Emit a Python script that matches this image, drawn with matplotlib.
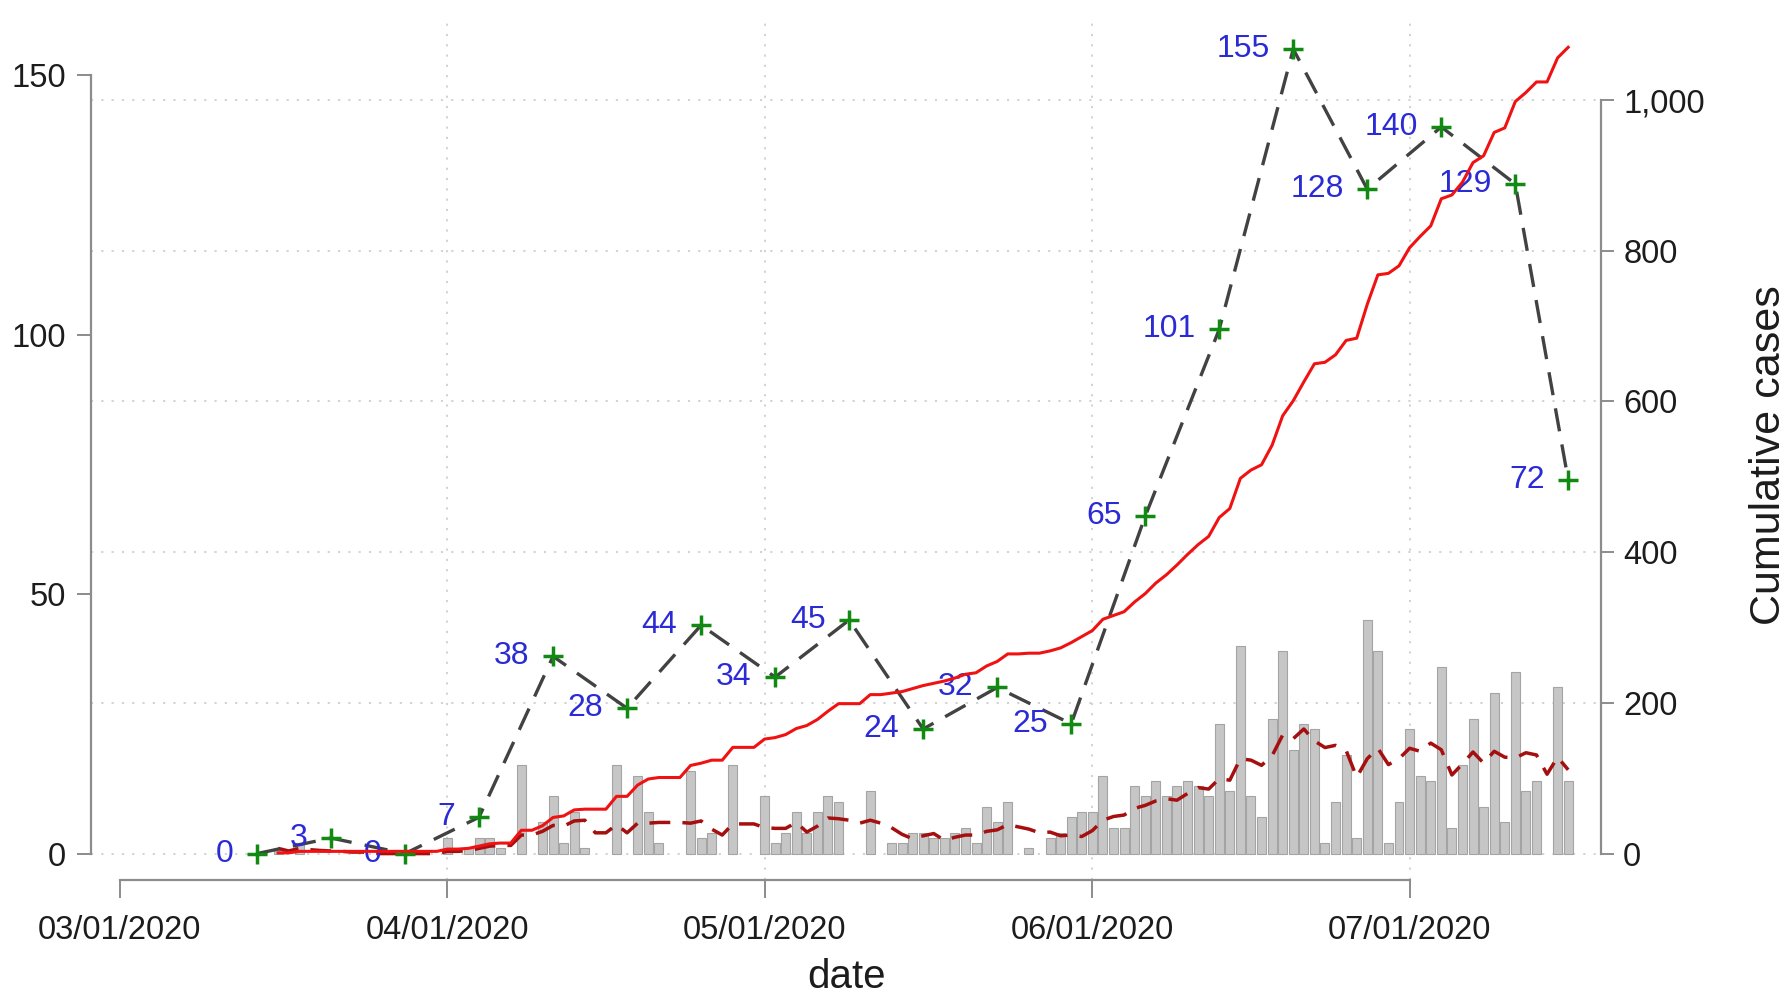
#!/usr/bin/env python3
# -*- coding: utf-8 -*-
"""
Daily, weekly and cumulative case counts, March - July 2020
"""
import numpy as np
import pandas as pd
import matplotlib
matplotlib.use("Agg")
import matplotlib.pyplot as plt
import matplotlib.dates as mdates
from matplotlib.ticker import FuncFormatter


# first day of the daily series
first_day = "2020-03-16"

# daily new cases, one row per week (weeks end on Saturday)
daily_cases = [
    1, 0, 2, 0, 0, 0,              # Mar 16 - Mar 21
    0, 0, 0, 0, 0, 0, 0,           # Mar 22 - Mar 28
    0, 0, 0, 3, 0, 1, 3,           # Mar 29 - Apr 04
    3, 1, 0, 17, 0, 6, 11,         # Apr 05 - Apr 11
    2, 8, 1, 0, 0, 17, 0,          # Apr 12 - Apr 18
    15, 8, 2, 0, 0, 16, 3,         # Apr 19 - Apr 25
    4, 0, 17, 0, 0, 11, 2,         # Apr 26 - May 02
    4, 8, 4, 8, 11, 10, 0,         # May 03 - May 09
    0, 12, 0, 2, 2, 4, 4,          # May 10 - May 16
    3, 3, 4, 5, 2, 9, 6,           # May 17 - May 23
    10, 0, 1, 0, 3, 4, 7,          # May 24 - May 30
    8, 8, 15, 5, 5, 13, 11,        # May 31 - Jun 06
    14, 11, 13, 14, 13, 11, 25,    # Jun 07 - Jun 13
    12, 40, 11, 7, 26, 39, 20,     # Jun 14 - Jun 20
    25, 24, 2, 10, 19, 3, 45,      # Jun 21 - Jun 27
    39, 2, 10, 24, 15, 14, 36,     # Jun 28 - Jul 04
    5, 17, 26, 9, 31, 6, 35,       # Jul 05 - Jul 11
    12, 14, 0, 32, 14,             # Jul 12 - Jul 16
]

# weekly totals, dated by the last day of each week
week_end = ["2020-03-14", "2020-03-21", "2020-03-28", "2020-04-04",
            "2020-04-11", "2020-04-18", "2020-04-25", "2020-05-02",
            "2020-05-09", "2020-05-16", "2020-05-23", "2020-05-30",
            "2020-06-06", "2020-06-13", "2020-06-20", "2020-06-27",
            "2020-07-04", "2020-07-11", "2020-07-16"]
weekly_cases = [0, 3, 0, 7, 38, 28, 44, 34, 45, 24, 32, 25,
                65, 101, 155, 128, 140, 129, 72]

# axis ticks
month_ticks = ["2020-03-01", "2020-04-01", "2020-05-01",
               "2020-06-01", "2020-07-01"]
left_ticks = [0, 50, 100, 150]
right_ticks = [0, 200, 400, 600, 800, 1000]


def generate_data():
    # daily dates and the derived series
    dates = pd.date_range(first_day, periods=len(daily_cases))
    daily = np.array(daily_cases)
    cumulative = np.cumsum(daily)
    moving_avg = pd.Series(daily).rolling(7, min_periods=1).mean().values
    weeks = pd.to_datetime(week_end)
    return dates, daily, cumulative, moving_avg, weeks


def plot_data(dates, daily, cumulative, moving_avg, weeks):
    plt.rcParams['font.family'] = ['Liberation Sans', 'DejaVu Sans']

    fig = plt.figure(figsize=(17.87, 10), dpi=100)
    ax = fig.add_axes([0.0509, 0.12, 0.845, 0.86])
    ax2 = ax.twinx()

    axis_grey = '#8c8c8c'
    grid_grey = '#cfcfcf'

    # limits
    x0 = mdates.date2num(pd.Timestamp(month_ticks[0]))
    ax.set_xlim(x0 - 2.7, x0 + 140.1)
    ax.set_ylim(-5.09, 160.6)
    ax2.set_ylim(-35.0, 1106.2)

    # gridlines (right axis values, drawn beneath the bars)
    lo1, hi1 = ax.get_ylim()
    lo2, hi2 = ax2.get_ylim()
    for r in right_ticks:
        y = lo1 + (r - lo2) * (hi1 - lo1) / (hi2 - lo2)
        ax.axhline(y, color=grid_grey, lw=1.3, ls=(0, (1.2, 4.5)), zorder=1)
    for m in month_ticks[1:]:
        ax.axvline(pd.Timestamp(m), color=grid_grey, lw=1.3,
                   ls=(0, (1.2, 4.5)), zorder=1)

    # daily bars
    keep = daily > 0
    ax.bar(dates[keep], daily[keep], width=0.85, color='#c6c6c6',
           edgecolor='#a4a4a4', linewidth=0.8, zorder=2)

    # 7 day moving average
    ax.plot(dates, moving_avg, color='#a50f0f', lw=2.5,
            dashes=(6, 3.5), zorder=3)

    # weekly totals
    ax.plot(weeks, weekly_cases, color='#424242', lw=2.4,
            dashes=(7, 4), zorder=4)
    ax.plot(weeks, weekly_cases, ls='none', marker='+', ms=15, mew=2.5,
            color='#118a11', zorder=5)
    for d, v in zip(weeks, weekly_cases):
        ax.annotate(str(v), (d, v), xytext=(-17, 0),
                    textcoords='offset points', ha='right', va='center',
                    fontsize=23, color='#2b2bd6', zorder=6)

    # cumulative cases on the right axis
    ax2.plot(dates, cumulative, color='#f01212', lw=2.2, zorder=3)

    # spines
    for s in ['top', 'right']:
        ax.spines[s].set_visible(False)
    for s in ['top', 'left', 'bottom']:
        ax2.spines[s].set_visible(False)
    ax.spines['left'].set_bounds(left_ticks[0], left_ticks[-1])
    ax2.spines['right'].set_bounds(right_ticks[0], right_ticks[-1])
    ax.spines['bottom'].set_bounds(mdates.date2num(pd.Timestamp(month_ticks[0])),
                                   mdates.date2num(pd.Timestamp(month_ticks[-1])))
    for sp in [ax.spines['left'], ax.spines['bottom'], ax2.spines['right']]:
        sp.set_color(axis_grey)
        sp.set_linewidth(1.6)

    # ticks
    ax.set_yticks(left_ticks)
    ax.tick_params(axis='y', length=10, width=1.4, color=axis_grey, pad=8,
                   labelsize=23.5, labelcolor='#1c1c1c')
    ax2.set_yticks(right_ticks)
    ax2.yaxis.set_major_formatter(FuncFormatter(lambda v, p: f"{int(v):,}"))
    ax2.tick_params(axis='y', length=9, width=1.4, color=axis_grey, pad=7,
                    labelsize=23.5, labelcolor='#1c1c1c')
    tick_dates = pd.to_datetime(month_ticks)
    ax.set_xticks(tick_dates)
    ax.set_xticklabels([t.strftime('%m/%d/%Y') for t in tick_dates])
    ax.tick_params(axis='x', length=13, width=1.4, color=axis_grey, pad=12,
                   labelsize=23.5, labelcolor='#1c1c1c')

    # titles
    fig.text(0.4735, 0.012, 'date', ha='center', va='baseline',
             fontsize=29, color='#1c1c1c')
    fig.text(0.99, 0.545, 'Cumulative cases', rotation=90, ha='center',
             va='center', fontsize=31, color='#1c1c1c')

    fig.savefig('out.png', dpi=100)


def main():
    dates, daily, cumulative, moving_avg, weeks = generate_data()
    print("Total cases = ", cumulative[-1])
    plot_data(dates, daily, cumulative, moving_avg, weeks)


if __name__ == "__main__":
    main()
